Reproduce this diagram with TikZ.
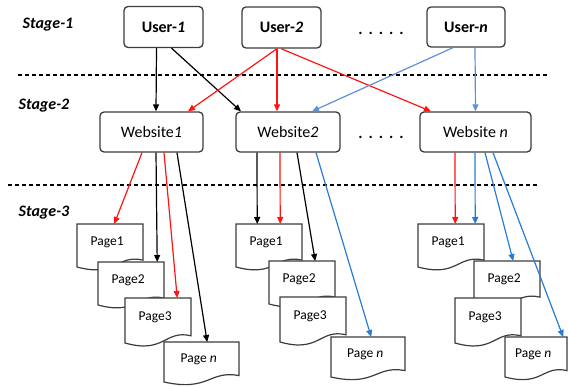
\documentclass[tikz,border=0pt]{standalone}
\usepackage{fontspec}
\setmainfont{Carlito}
\usetikzlibrary{arrows.meta}
\definecolor{rd}{RGB}{255,20,20}
\definecolor{lb}{RGB}{95,145,210}
\definecolor{db}{RGB}{40,125,210}
\definecolor{bx}{RGB}{60,60,60}
\tikzset{
  box/.style={draw=bx,line width=1.3pt,rounded corners=4pt,fill=white,inner sep=0pt},
  userbox/.style={box,minimum width=79pt,minimum height=41pt,font=\fontsize{16}{18}\selectfont\bfseries},
  webbox/.style={box,minimum height=40pt,font=\fontsize{16}{18}\selectfont},
  stagelbl/.style={font=\fontsize{16}{18}\selectfont\bfseries\itshape,inner sep=0pt},
  pagebox/.style={inner sep=0pt,anchor=north west},
  pagelbl/.style={font=\fontsize{13.5}{15}\selectfont,inner sep=0pt},
  docline/.style={draw=bx,line width=1.2pt,fill=white},
  arr/.style={line width=1.2pt,-{Triangle[length=7pt,width=6pt]}},
  sep/.style={line width=1.4pt,dash pattern=on 4pt off 3pt},
  dotsl/.style={font=\fontsize{16}{18}\selectfont\bfseries,inner sep=0pt}
}
% name, x0, y0, w, h
\newcommand\docpage[5]{%
  \draw[docline] (#2,#3) -- ++(#4,0) -- ++(0,0.84*#5)
    .. controls ++(-0.4*#4,-0.14*#5) and ++(0.6*#4,0.25*#5) .. (#2,#3+#5) -- cycle;
  \node[pagebox,minimum width=#4pt,minimum height=0.84*#5pt] (#1) at (#2,#3) {};
}
\newcommand\fivedots{.\hspace{6pt}.\hspace{6pt}.\hspace{6pt}.\hspace{6pt}.}
\begin{document}
\begin{tikzpicture}[x=1pt,y=-1pt]
\useasboundingbox (0,0) rectangle (568,387);

% stage labels
\node[stagelbl] (s1) at (48,25) {Stage-1};
\node[stagelbl] (s2) at (44,106) {Stage-2};
\node[stagelbl] (s3) at (44,213) {Stage-3};

% separators
\coordinate (d1a) at (18,75);
\coordinate (d1b) at (549,75);
\coordinate (d2a) at (8,185);
\coordinate (d2b) at (539,185);
\draw[sep] (d1a) -- (d1b);
\draw[sep] (d2a) -- (d2b);

% users
\node[userbox] (u1) at (163.5,27) {User-\textit{1}};
\node[userbox] (u2) at (281.5,27.5) {User-\textit{2}};
\node[userbox,minimum width=78pt,minimum height=40pt] (un) at (466,27) {User-\textit{n}};
\node[dotsl] (dot1) at (381,33) {\fivedots};

% websites
\node[webbox,minimum width=103pt] (w1) at (151.5,132) {Website\textit{1}};
\node[webbox,minimum width=104pt] (w2) at (288,132) {Website\textit{2}};
\node[webbox,minimum width=111pt] (wn) at (475.5,132) {Website \textit{n}};
\node[dotsl] (dot2) at (381,137) {\fivedots};

% pages group 1
\docpage{p11}{77}{224}{66}{43}
\docpage{p12}{98}{262}{66}{43}
\docpage{p13}{125}{298}{66}{45}
\docpage{p1n}{164}{342}{75}{40}
% group 2
\docpage{p21}{236}{224}{66}{43}
\docpage{p22}{269}{261}{66}{43}
\docpage{p23}{280}{297}{66}{45}
\docpage{p2n}{331}{337}{74}{40}
% group n
\docpage{pn1}{418}{224}{66}{43}
\docpage{pn2}{474}{261}{66}{43}
\docpage{pn3}{455}{298}{66}{45}
\docpage{pnn}{505}{337}{62}{40}

% page labels
\foreach \p/\t in {p11/Page1,p12/Page2,p13/Page3,p21/Page1,p22/Page2,p23/Page3,pn1/Page1,pn2/Page2,pn3/Page3}
  \node[pagelbl] (\p-t) at ([xshift=-3pt]\p.center) {\t};
\foreach \p in {p1n,p2n,pnn}
  \node[pagelbl] (\p-t) at ([xshift=-3pt]\p.center) {Page \textit{n}};

% stage 1 -> 2
\draw[arr] ([xshift=-7pt]u1.south) -- ([xshift=4.5pt]w1.north);
\draw[arr] ([xshift=8pt]u1.south) -- ([xshift=-47pt]w2.north);
\draw[arr,rd] ([xshift=-4.5pt]u2.south) -- ([xshift=36.5pt]w1.north);
\draw[arr,rd] ([xshift=-4.5pt]u2.south) -- ([xshift=-11pt]w2.north);
\draw[arr,rd] ([xshift=-0.5pt]u2.south) -- ([xshift=-44.5pt]wn.north);
\draw[arr,lb] ([xshift=-13pt]un.south) -- ([xshift=24pt]w2.north);
\draw[arr,lb] ([xshift=9pt]un.south) -- ([xshift=0pt]wn.north);

% stage 2 -> 3, website 1
\draw[arr,rd] ([xshift=-9.5pt]w1.south) -- ([xshift=4pt]p11.north);
\draw[arr] ([xshift=4.5pt]w1.south) -- ([xshift=26pt]p12.north);
\draw[arr,rd] ([xshift=12.5pt]w1.south) -- ([xshift=19pt]p13.north);
\draw[arr] ([xshift=25.5pt]w1.south) -- ([xshift=5.5pt]p1n.north);
% website 2
\draw[arr] ([xshift=-31pt]w2.south) -- ([xshift=-12pt]p21.north);
\draw[arr,rd] ([xshift=-8pt]w2.south) -- ([xshift=11pt]p21.north);
\draw[arr] ([xshift=9pt]w2.south) -- ([xshift=13pt]p22.north);
\draw[arr,db] ([xshift=28pt]w2.south) -- ([xshift=3pt]p2n.north);
% website n
\draw[arr,rd] ([xshift=-20.5pt]wn.south) -- ([xshift=4pt]pn1.north);
\draw[arr,db] ([xshift=-0.5pt]wn.south) -- ([xshift=24pt]pn1.north);
\draw[arr,db] ([xshift=9.5pt]wn.south) -- ([xshift=6pt]pn2.north);
\draw[arr,db] ([xshift=17.5pt]wn.south) -- ([xshift=27pt]pnn.north);
\end{tikzpicture}
\end{document}
